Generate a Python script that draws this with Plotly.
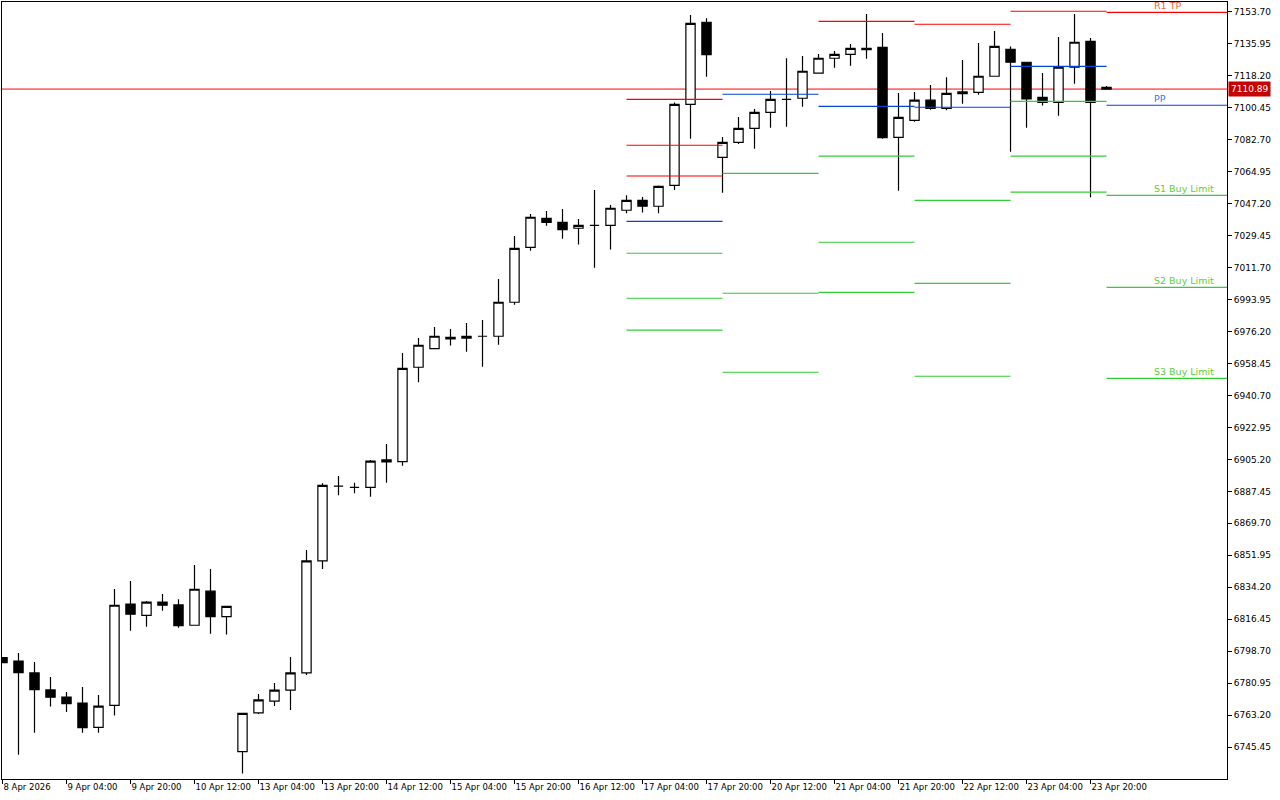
import plotly.graph_objects as go

# ---------------- data (H4 bars, index 0 = 8 Apr 2026 12:00) ----------------
bar_index = list(range(70))
opens = [6795.1, 6793.2, 6786.6, 6777.2, 6773.2, 6769.9, 6756.4, 6768.6, 6824.9, 6818.6,
         6826.0, 6824.4, 6813.1, 6832.0, 6817.9, 6742.9, 6764.4, 6771.0, 6777.1, 6786.6,
         6848.8, 6890.4, 6889.7, 6889.7, 6904.9, 6904.0, 6956.4, 6966.7, 6973.0, 6972.5,
         6973.6, 6973.6, 6992.5, 7023.0, 7039.1, 7036.9, 7033.6, 7035.2, 7035.2, 7043.6,
         7049.1, 7045.8, 7057.4, 7102.4, 7148.0, 7073.0, 7081.3, 7089.1, 7098.0, 7105.2,
         7105.8, 7119.7, 7128.0, 7130.2, 7133.5, 7134.1, 7084.1, 7093.5, 7104.7, 7100.2,
         7109.3, 7109.1, 7118.0, 7133.0, 7125.8, 7106.3, 7103.5, 7123.0, 7137.4, 7111.9]
highs = [6795.1, 6797.7, 6792.7, 6784.4, 6776.0, 6778.8, 6774.4, 6833.2, 6837.7, 6826.6,
         6830.5, 6827.5, 6846.6, 6844.3, 6823.6, 6764.2, 6774.9, 6781.0, 6795.5, 6854.9,
         6892.0, 6896.0, 6892.3, 6904.9, 6913.8, 6964.3, 6972.6, 6978.8, 6977.6, 6981.0,
         6982.6, 7005.4, 7029.3, 7041.5, 7043.2, 7044.3, 7038.7, 7054.8, 7046.5, 7051.9,
         7050.9, 7057.4, 7103.5, 7152.0, 7150.2, 7084.3, 7095.4, 7099.8, 7109.8, 7128.0,
         7129.3, 7130.4, 7132.0, 7135.9, 7152.6, 7142.0, 7108.7, 7109.3, 7113.2, 7117.4,
         7127.0, 7136.5, 7143.1, 7134.6, 7125.8, 7119.8, 7139.8, 7152.6, 7139.3, 7112.6]
lows = [6792.3, 6741.2, 6753.4, 6767.9, 6764.9, 6753.4, 6753.4, 6762.9, 6810.1, 6812.3,
        6821.2, 6811.7, 6813.1, 6808.4, 6807.9, 6730.7, 6763.8, 6768.2, 6766.0, 6785.5,
        6844.3, 6885.3, 6886.4, 6884.5, 6892.3, 6901.7, 6948.0, 6966.7, 6968.4, 6965.0,
        6956.7, 6968.9, 6991.1, 7021.1, 7035.0, 7027.8, 7024.5, 7011.7, 7021.8, 7041.9,
        7042.4, 7041.9, 7054.9, 7083.3, 7117.8, 7053.3, 7080.4, 7077.8, 7089.4, 7090.0,
        7101.1, 7119.7, 7122.8, 7123.9, 7127.8, 7083.3, 7054.4, 7092.8, 7099.4, 7099.1,
        7102.8, 7107.8, 7118.0, 7076.1, 7089.4, 7101.7, 7096.1, 7113.9, 7050.8, 7110.89]
closes = [6792.3, 6786.7, 6777.3, 6773.1, 6769.5, 6756.2, 6768.2, 6824.2, 6819.2, 6825.9,
          6824.2, 6812.9, 6833.1, 6817.9, 6823.6, 6764.2, 6771.6, 6777.1, 6786.6, 6848.8,
          6890.8, 6890.4, 6889.7, 6904.2, 6903.8, 6955.8, 6968.6, 6973.6, 6972.2, 6973.6,
          6973.6, 6992.5, 7022.4, 7039.7, 7036.9, 7032.8, 7035.2, 7035.2, 7044.7, 7049.1,
          7045.8, 7056.9, 7102.4, 7147.4, 7130.0, 7081.3, 7089.1, 7098.0, 7105.2, 7105.2,
          7120.8, 7128.0, 7130.2, 7133.5, 7132.8, 7083.9, 7095.2, 7104.7, 7100.2, 7108.5,
          7108.3, 7118.0, 7134.6, 7125.8, 7105.5, 7103.5, 7123.0, 7136.9, 7103.5, 7110.89]

time_tick_bars = [0, 4, 8, 12, 16, 20, 24, 28, 32, 36, 40, 44, 48, 52, 56, 60, 64, 68]
time_tick_labels = ["8 Apr 2026", "9 Apr 04:00", "9 Apr 20:00", "10 Apr 12:00",
                    "13 Apr 04:00", "13 Apr 20:00", "14 Apr 12:00", "15 Apr 04:00",
                    "15 Apr 20:00", "16 Apr 12:00", "17 Apr 04:00", "17 Apr 20:00",
                    "20 Apr 12:00", "21 Apr 04:00", "21 Apr 20:00", "22 Apr 12:00",
                    "23 Apr 04:00", "23 Apr 20:00"]

price_tick_labels = ["6745.45", "6763.20", "6780.95", "6798.70", "6816.45", "6834.20",
                     "6851.95", "6869.70", "6887.45", "6905.20", "6922.95", "6940.70",
                     "6958.45", "6976.20", "6993.95", "7011.70", "7029.45", "7047.20",
                     "7064.95", "7082.70", "7100.45", "7118.20", "7135.95", "7153.70"]

# daily pivot levels (segment from first bar of the day to first bar of next day)
pivot_start = [39, 45, 51, 57, 63, 69]
pivot_end = [45, 51, 57, 63, 69, 78]
pivot_r3 = [7105.2, None, None, None, None, None]
pivot_r2 = [7079.7, None, None, None, None, None]
pivot_r1 = [7062.6, None, 7148.5, 7146.9, 7154.1, 7153.5]
pivot_pp = [7037.4, 7108.0, 7101.3, 7100.8, 7123.5, 7101.9]
pivot_s1 = [7019.7, 7064.1, 7073.6, 7049.1, 7104.1, 7051.9]
pivot_s2 = [6994.7, 6997.5, 7025.8, 7003.0, 7073.7, 7000.8]
pivot_s3 = [6977.0, 6953.6, 6998.0, 6951.4, 7053.6, 6950.2]

level_labels = ["R1 TP", "PP", "S1 Buy Limit", "S2 Buy Limit", "S3 Buy Limit"]
level_label_bar = 72
current_price = 7110.89

# ---------------- styling ----------------
RED = "#FF0000"
BLUE = "#0046D2"
GREEN = "#32CD32"
FONT = "DejaVu Sans"


def segments(level_lists):
    xs, ys = [], []
    for lv in level_lists:
        for s, e, v in zip(pivot_start, pivot_end, lv):
            if v is None:
                continue
            xs += [s, e, None]
            ys += [v, v, None]
    return xs, ys


fig = go.Figure()

fig.add_trace(go.Candlestick(
    x=bar_index, open=opens, high=highs, low=lows, close=closes,
    increasing=dict(line=dict(color="black", width=1.2), fillcolor="white"),
    decreasing=dict(line=dict(color="black", width=1.2), fillcolor="black"),
    whiskerwidth=0, showlegend=False, hoverinfo="skip",
))

for lists, col in [([pivot_r1, pivot_r2, pivot_r3], RED),
                   ([pivot_pp], BLUE),
                   ([pivot_s1, pivot_s2, pivot_s3], GREEN)]:
    xs, ys = segments(lists)
    fig.add_trace(go.Scatter(x=xs, y=ys, mode="lines",
                             line=dict(color=col, width=1.2),
                             showlegend=False, hoverinfo="skip"))

# current price line
fig.add_shape(type="line", xref="paper", x0=0, x1=1, yref="y",
              y0=current_price, y1=current_price,
              line=dict(color=RED, width=1), layer="below")

# current price tag on the axis
fig.add_annotation(xref="paper", x=1, xanchor="left", xshift=1,
                   yref="y", y=current_price, yanchor="middle",
                   text=f"{current_price:.2f}", showarrow=False,
                   bgcolor="#C80000", borderpad=2,
                   font=dict(family=FONT, size=9, color="white"))

# level labels on the last day's lines
last_levels = [pivot_r1[-1], pivot_pp[-1], pivot_s1[-1], pivot_s2[-1], pivot_s3[-1]]
label_colors = ["#F0603A", "#2F78E8", "#5CD03C", "#5CD03C", "#5CD03C"]
for txt, val, col in zip(level_labels, last_levels, label_colors):
    fig.add_annotation(x=level_label_bar, y=val, xref="x", yref="y",
                       xanchor="left", yanchor="bottom", text=txt,
                       showarrow=False, borderpad=0, xshift=-2,
                       font=dict(family=FONT, size=9.5, color=col))

fig.update_layout(
    width=1280, height=800,
    margin=dict(l=2, r=53, t=2, b=21, autoexpand=False),
    paper_bgcolor="white", plot_bgcolor="white",
    boxgap=0.42, boxgroupgap=0,
    hovermode=False,
    font=dict(family=FONT, color="black"),
    xaxis=dict(
        range=[-0.031, 76.53],
        tickmode="array", tickvals=time_tick_bars, ticktext=time_tick_labels,
        ticks="outside", ticklen=4, tickcolor="black", tickwidth=1,
        ticklabelposition="outside right", tickangle=0, automargin=False,
        tickfont=dict(family=FONT, size=8.5, color="black"),
        showline=True, linecolor="black", linewidth=1, mirror=True,
        showgrid=False, zeroline=False,
        rangeslider=dict(visible=False),
    ),
    yaxis=dict(
        side="right", automargin=False,
        range=[6727.7, 7159.25],
        tickmode="array",
        tickvals=[float(t) for t in price_tick_labels],
        ticktext=price_tick_labels,
        ticks="outside", ticklen=4, tickcolor="black", tickwidth=1,
        tickfont=dict(family=FONT, size=9, color="black"),
        showline=True, linecolor="black", linewidth=1, mirror=True,
        showgrid=False, zeroline=False,
    ),
)

fig.write_html("out.html", config={"displayModeBar": False},
               post_script="document.body.style.margin='0';")
